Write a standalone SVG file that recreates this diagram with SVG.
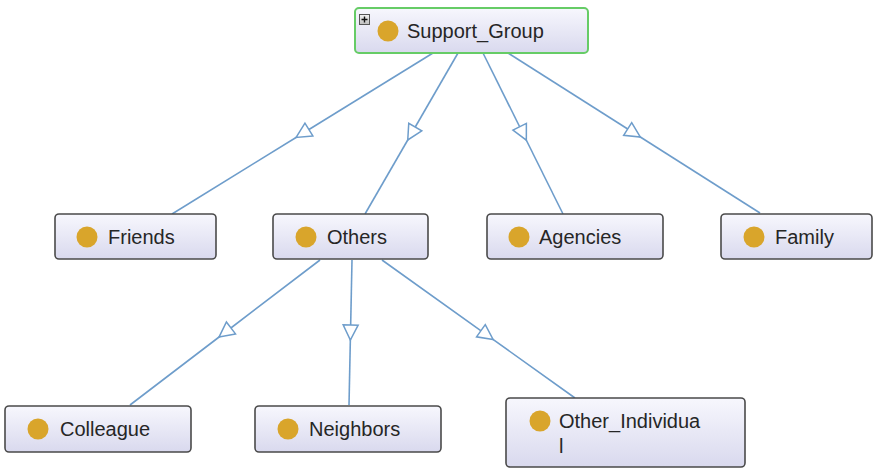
<svg xmlns="http://www.w3.org/2000/svg" width="874" height="469" viewBox="0 0 874 469">
<style>
.box{fill:url(#nodeFill);stroke:#4a4a4a;stroke-width:1.6}
.root{fill:url(#nodeFill);stroke:#66cc66;stroke-width:2}
.dot{fill:#d9a52b}
.lbl{font-family:"Liberation Sans",Arial,sans-serif;font-size:20px;fill:#262626}
.edge{fill:none;stroke:#6e9dcb;stroke-width:1.6;marker-mid:url(#tri)}
</style>
<defs>
<linearGradient id="nodeFill" x1="0" y1="0" x2="0" y2="1">
<stop offset="0" stop-color="#f7f7fd"/>
<stop offset="1" stop-color="#d9d9ee"/>
</linearGradient>
<linearGradient id="plusFill" x1="0" y1="0" x2="0" y2="1">
<stop offset="0" stop-color="#f4f4f4"/>
<stop offset="1" stop-color="#bdbdbd"/>
</linearGradient>
<marker id="tri" markerUnits="userSpaceOnUse" markerWidth="18" markerHeight="18" viewBox="0 0 18 18" refX="9" refY="9" orient="auto" overflow="visible">
<path d="M1.5,1.5 L16.5,9 L1.5,16.5 Z" fill="#ffffff" stroke="#6e9dcb" stroke-width="1.5" stroke-linejoin="miter"/>
</marker>
</defs>
<rect width="874" height="469" fill="#ffffff"/>
<g id="connectors">
<path class="edge" d="M433,53 L302.5,133.5 L172,214"/>
<path class="edge" d="M458,53 L411.5,133.5 L365,214"/>
<path class="edge" d="M483,53 L523,133.5 L563,214"/>
<path class="edge" d="M508,53 L634,133 L760,213"/>
<path class="edge" d="M320,260 L225,332.5 L130,405"/>
<path class="edge" d="M352,260 L350.5,332.5 L349,405"/>
<path class="edge" d="M382,260 L487,335.1 L575,398"/>
</g>
<g id="Support_Group">
<rect class="root" x="355" y="8" width="233" height="45" rx="4"/>
<rect x="359.5" y="14.5" width="10" height="10" fill="url(#plusFill)" stroke="#555" stroke-width="1"/>
<path d="M361.5,19.5 H367.5 M364.5,16.5 V22.5" stroke="#111" stroke-width="1.4"/>
<circle class="dot" cx="388" cy="31" r="10.5"/>
<text class="lbl" x="407" y="38">Support_Group</text>
</g>
<g id="Friends">
<rect class="box" x="55" y="214" width="161" height="45" rx="4"/>
<circle class="dot" cx="87" cy="237" r="10.5"/>
<text class="lbl" x="108" y="244">Friends</text>
</g>
<g id="Others">
<rect class="box" x="273" y="214" width="155" height="45" rx="4"/>
<circle class="dot" cx="306" cy="237" r="10.5"/>
<text class="lbl" x="327" y="244">Others</text>
</g>
<g id="Agencies">
<rect class="box" x="487" y="214" width="176" height="45" rx="4"/>
<circle class="dot" cx="519" cy="237" r="10.5"/>
<text class="lbl" x="539" y="244">Agencies</text>
</g>
<g id="Family">
<rect class="box" x="721" y="214" width="151" height="45" rx="4"/>
<circle class="dot" cx="754" cy="237" r="10.5"/>
<text class="lbl" x="775" y="244">Family</text>
</g>
<g id="Colleague">
<rect class="box" x="5" y="406" width="186" height="46" rx="4"/>
<circle class="dot" cx="38" cy="429" r="10.5"/>
<text class="lbl" x="60" y="436">Colleague</text>
</g>
<g id="Neighbors">
<rect class="box" x="255" y="406" width="186" height="46" rx="4"/>
<circle class="dot" cx="288" cy="429" r="10.5"/>
<text class="lbl" x="309" y="436">Neighbors</text>
</g>
<g id="Other_Individual">
<rect class="box" x="506" y="398" width="239" height="69" rx="4"/>
<circle class="dot" cx="540" cy="421" r="10.5"/>
<text class="lbl" x="559" y="428">Other_Individua</text>
<text class="lbl" x="559" y="453">l</text>
</g>
</svg>
